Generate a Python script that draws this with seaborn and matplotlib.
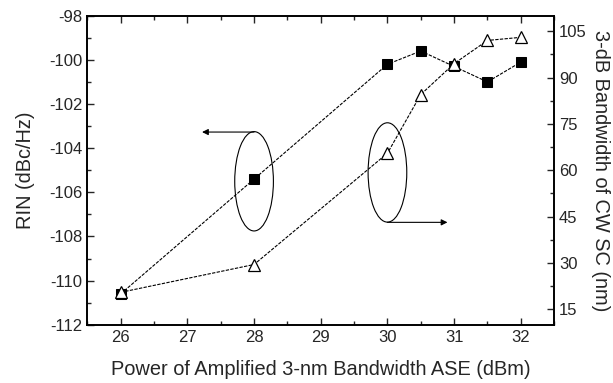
import pandas as pd
import matplotlib
matplotlib.use("Agg")
import matplotlib.pyplot as plt
import seaborn as sns
from matplotlib.patches import Ellipse
from matplotlib.ticker import MultipleLocator

# --- Dados ---
power = [26, 28, 30, 30.5, 31, 31.5, 32]
rin = [-110.6, -105.4, -100.2, -99.6, -100.3, -101.0, -100.1]
bandwidth = [20.5, 29.5, 65.5, 84.5, 94.5, 102.0, 103.0]

df = pd.DataFrame({'Power': power, 'RIN': rin, 'BW': bandwidth})

sns.set_style("ticks")
plt.rcParams['font.family'] = ['Liberation Sans', 'DejaVu Sans']
plt.rcParams['axes.unicode_minus'] = False
plt.rcParams['xtick.direction'] = 'in'
plt.rcParams['ytick.direction'] = 'in'

fig, ax = plt.subplots(figsize=(6.13, 3.83), dpi=100)
fig.subplots_adjust(left=0.1425, right=0.904, top=0.959, bottom=0.152)
ax2 = ax.twinx()

line_kw = dict(color='black', linewidth=0.8, linestyle=(0, (3, 1.2)), markeredgecolor='black')

sns.lineplot(data=df, x='Power', y='RIN', ax=ax, marker='s', markersize=7.5,
             markerfacecolor='black', **line_kw)
sns.lineplot(data=df, x='Power', y='BW', ax=ax2, marker='^', markersize=8.5,
             markerfacecolor='white', markeredgewidth=0.9, **line_kw)

ax.set_xlim(25.5, 32.5)
ax.set_ylim(-112, -98)
ax2.set_ylim(10, 110)

ax.xaxis.set_major_locator(MultipleLocator(1))
ax.xaxis.set_minor_locator(MultipleLocator(0.5))
ax.yaxis.set_major_locator(MultipleLocator(2))
ax.yaxis.set_minor_locator(MultipleLocator(1))
ax2.yaxis.set_minor_locator(MultipleLocator(7.5))
ax2.set_yticks([15, 30, 45, 60, 75, 90, 105])

ax.tick_params(axis='both', which='major', labelsize=12, length=5, width=1, top=True)
ax.tick_params(axis='both', which='minor', length=3, width=1, top=True)
ax.tick_params(axis='y', which='both', right=False)
ax2.tick_params(axis='y', which='major', labelsize=12, length=5, width=1)
ax2.tick_params(axis='y', which='minor', length=3, width=1)

for a in (ax, ax2):
    for s in a.spines.values():
        s.set_linewidth(1.2)
        s.set_color('black')

ax.set_xlabel('Power of Amplified 3-nm Bandwidth ASE (dBm)', fontsize=14.4, labelpad=11)
ax.set_ylabel('RIN (dBc/Hz)', fontsize=14.4, labelpad=10)
ax2.set_ylabel('3-dB Bandwidth of CW SC (nm)', fontsize=14.4, rotation=270, labelpad=17)

# elipses e setas indicando o eixo de cada curva
ax.add_patch(Ellipse((28, -105.5), 0.58, 4.5, fill=False, edgecolor='black', linewidth=0.8, zorder=5))
ax.add_patch(Ellipse((30, -105.1), 0.58, 4.5, fill=False, edgecolor='black', linewidth=0.8, zorder=5))
arrow = dict(arrowstyle='-|>', color='black', linewidth=0.8, mutation_scale=9, shrinkA=0, shrinkB=0)
ax.annotate('', xy=(27.22, -103.27), xytext=(28, -103.27), arrowprops=arrow)
ax.annotate('', xy=(30.9, -107.36), xytext=(30, -107.36), arrowprops=arrow)

plt.savefig('out.png', dpi=100)
